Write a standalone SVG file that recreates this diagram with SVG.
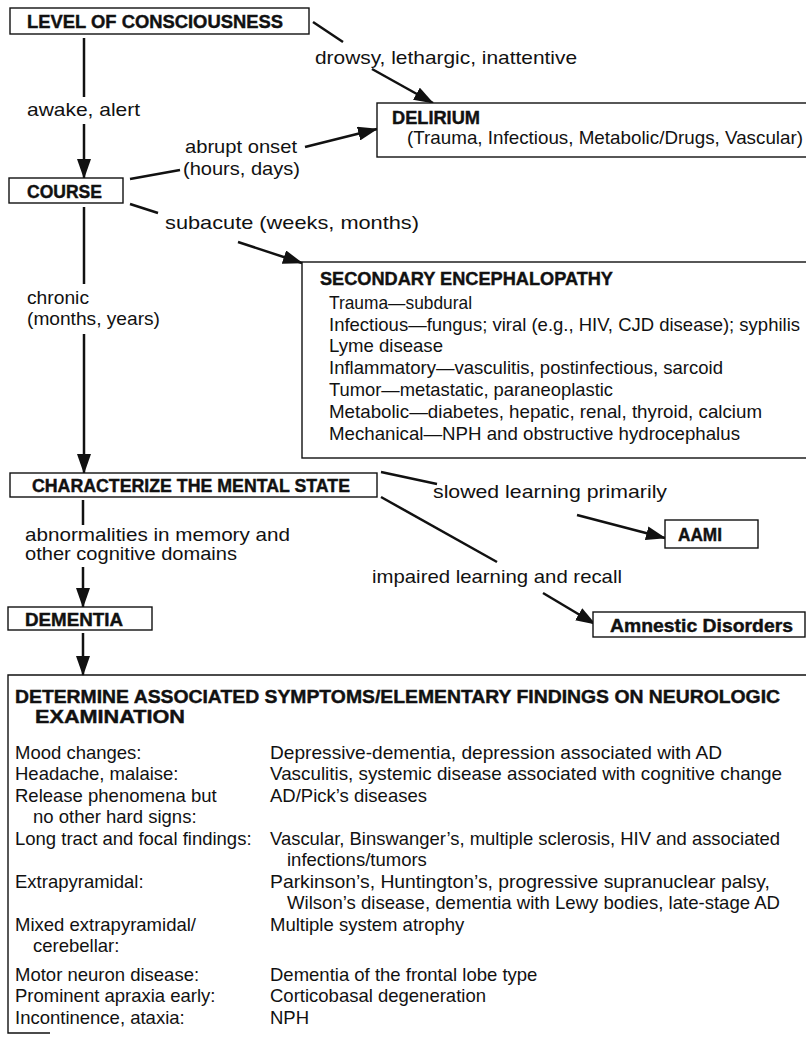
<svg xmlns="http://www.w3.org/2000/svg" width="806" height="1042" viewBox="0 0 806 1042">
  <style>
    .box { fill: #fff; stroke: #111; stroke-width: 1.4; }
    .open { fill: none; stroke: #111; stroke-width: 1.4; }
    .t { font-family: "Liberation Sans", Arial, sans-serif; font-size: 18.5px; fill: #111; }
    .b { font-family: "Liberation Sans", Arial, sans-serif; font-size: 17.5px; font-weight: bold; fill: #111; stroke: #111; stroke-width: 0.4; }
    .c line { stroke: #111; stroke-width: 2.5; }
  </style>
  <defs>
    <marker id="ah" viewBox="0 0 20 14" refX="19" refY="7" markerWidth="20" markerHeight="14" markerUnits="userSpaceOnUse" orient="auto">
      <path d="M0,0 L20,7 L0,14 z" fill="#111"/>
    </marker>
  </defs>
  <rect width="806" height="1042" fill="#fff"/>

  <!-- connectors -->
  <g id="connectors" class="c">
    <line x1="84" y1="38" x2="84" y2="97"/>
    <line x1="84" y1="124" x2="84" y2="178" marker-end="url(#ah)"/>
    <text class="t" x="27" y="116" textLength="113" lengthAdjust="spacingAndGlyphs">awake, alert</text>

    <line x1="313" y1="22" x2="343" y2="42"/>
    <line x1="372" y1="69" x2="433" y2="103" marker-end="url(#ah)"/>
    <text class="t" x="315" y="64" textLength="262" lengthAdjust="spacingAndGlyphs">drowsy, lethargic, inattentive</text>

    <line x1="130" y1="179" x2="180" y2="170"/>
    <line x1="305" y1="147" x2="377" y2="129" marker-end="url(#ah)"/>
    <text class="t" x="185" y="153" textLength="112" lengthAdjust="spacingAndGlyphs">abrupt onset</text>
    <text class="t" x="183" y="175" textLength="117" lengthAdjust="spacingAndGlyphs">(hours, days)</text>

    <line x1="130" y1="204" x2="158" y2="213"/>
    <line x1="238" y1="242" x2="302" y2="263" marker-end="url(#ah)"/>
    <text class="t" x="165" y="229" textLength="254" lengthAdjust="spacingAndGlyphs">subacute (weeks, months)</text>

    <line x1="84" y1="207" x2="84" y2="284"/>
    <line x1="84" y1="334" x2="84" y2="473" marker-end="url(#ah)"/>
    <text class="t" x="27" y="304" textLength="62" lengthAdjust="spacingAndGlyphs">chronic</text>
    <text class="t" x="27" y="325" textLength="133" lengthAdjust="spacingAndGlyphs">(months, years)</text>

    <line x1="381" y1="472" x2="437" y2="484"/>
    <line x1="577" y1="515" x2="665" y2="538" marker-end="url(#ah)"/>
    <text class="t" x="433" y="498" textLength="234" lengthAdjust="spacingAndGlyphs">slowed learning primarily</text>

    <line x1="381" y1="497" x2="497" y2="562"/>
    <line x1="543" y1="593" x2="595" y2="624" marker-end="url(#ah)"/>
    <text class="t" x="372" y="583" textLength="250" lengthAdjust="spacingAndGlyphs">impaired learning and recall</text>

    <line x1="83" y1="500" x2="83" y2="525"/>
    <line x1="83" y1="567" x2="83" y2="607" marker-end="url(#ah)"/>
    <text class="t" x="25" y="541" textLength="265" lengthAdjust="spacingAndGlyphs">abnormalities in memory and</text>
    <text class="t" x="25" y="560" textLength="212" lengthAdjust="spacingAndGlyphs">other cognitive domains</text>

    <line x1="83" y1="633" x2="83" y2="675" marker-end="url(#ah)"/>
  </g>

  <!-- nodes -->
  <g id="level-of-consciousness">
    <rect class="box" x="10" y="8" width="299" height="26"/>
    <text class="b" x="27" y="28" textLength="256" lengthAdjust="spacingAndGlyphs">LEVEL OF CONSCIOUSNESS</text>
  </g>

  <g id="delirium">
    <rect class="box" x="377" y="103" width="450" height="54"/>
    <text class="b" x="392" y="124" textLength="88" lengthAdjust="spacingAndGlyphs">DELIRIUM</text>
    <text class="t" x="407" y="144" textLength="396" lengthAdjust="spacingAndGlyphs">(Trauma, Infectious, Metabolic/Drugs, Vascular)</text>
  </g>

  <g id="course">
    <rect class="box" x="9" y="178" width="114" height="25"/>
    <text class="b" x="27" y="198" textLength="75" lengthAdjust="spacingAndGlyphs">COURSE</text>
  </g>

  <g id="secondary-encephalopathy">
    <rect class="box" x="302" y="262" width="520" height="196"/>
    <text class="b" x="320" y="285" textLength="293" lengthAdjust="spacingAndGlyphs">SECONDARY ENCEPHALOPATHY</text>
    <text class="t" x="329" y="309" textLength="143" lengthAdjust="spacingAndGlyphs">Trauma—subdural</text>
    <text class="t" x="329" y="331" textLength="471" lengthAdjust="spacingAndGlyphs">Infectious—fungus; viral (e.g., HIV, CJD disease); syphilis</text>
    <text class="t" x="329" y="352" textLength="114" lengthAdjust="spacingAndGlyphs">Lyme disease</text>
    <text class="t" x="329" y="374" textLength="394" lengthAdjust="spacingAndGlyphs">Inflammatory—vasculitis, postinfectious, sarcoid</text>
    <text class="t" x="329" y="396" textLength="284" lengthAdjust="spacingAndGlyphs">Tumor—metastatic, paraneoplastic</text>
    <text class="t" x="329" y="418" textLength="433" lengthAdjust="spacingAndGlyphs">Metabolic—diabetes, hepatic, renal, thyroid, calcium</text>
    <text class="t" x="329" y="440" textLength="411" lengthAdjust="spacingAndGlyphs">Mechanical—NPH and obstructive hydrocephalus</text>
  </g>

  <g id="characterize">
    <rect class="box" x="10" y="473" width="367" height="24"/>
    <text class="b" x="32" y="492" textLength="318" lengthAdjust="spacingAndGlyphs">CHARACTERIZE THE MENTAL STATE</text>
  </g>

  <g id="aami">
    <rect class="box" x="665" y="520" width="93" height="28"/>
    <text class="b" x="678" y="541" textLength="44" lengthAdjust="spacingAndGlyphs">AAMI</text>
  </g>

  <g id="amnestic-disorders">
    <rect class="box" x="593" y="612" width="212" height="25"/>
    <text class="b" x="610" y="632" textLength="183" lengthAdjust="spacingAndGlyphs">Amnestic Disorders</text>
  </g>

  <g id="dementia">
    <rect class="box" x="8" y="607" width="144" height="23"/>
    <text class="b" x="25" y="626" textLength="98" lengthAdjust="spacingAndGlyphs">DEMENTIA</text>
  </g>

  <g id="associated-findings">
    <path class="open" d="M820,675 H8 V1033 H50"/>
    <text class="b" x="15" y="703" textLength="765" lengthAdjust="spacingAndGlyphs">DETERMINE ASSOCIATED SYMPTOMS/ELEMENTARY FINDINGS ON NEUROLOGIC</text>
    <text class="b" x="35" y="723" textLength="150" lengthAdjust="spacingAndGlyphs">EXAMINATION</text>

    <text class="t" x="15" y="759">Mood changes:</text>
    <text class="t" x="270" y="759" textLength="452" lengthAdjust="spacingAndGlyphs">Depressive-dementia, depression associated with AD</text>
    <text class="t" x="15" y="780">Headache, malaise:</text>
    <text class="t" x="270" y="780" textLength="512" lengthAdjust="spacingAndGlyphs">Vasculitis, systemic disease associated with cognitive change</text>
    <text class="t" x="15" y="802">Release phenomena but</text>
    <text class="t" x="270" y="802">AD/Pick’s diseases</text>
    <text class="t" x="33" y="823">no other hard signs:</text>
    <text class="t" x="15" y="845">Long tract and focal findings:</text>
    <text class="t" x="270" y="845" textLength="510" lengthAdjust="spacingAndGlyphs">Vascular, Binswanger’s, multiple sclerosis, HIV and associated</text>
    <text class="t" x="287" y="866">infections/tumors</text>
    <text class="t" x="15" y="888">Extrapyramidal:</text>
    <text class="t" x="270" y="888" textLength="500" lengthAdjust="spacingAndGlyphs">Parkinson’s, Huntington’s, progressive supranuclear palsy,</text>
    <text class="t" x="287" y="909" textLength="493" lengthAdjust="spacingAndGlyphs">Wilson’s disease, dementia with Lewy bodies, late-stage AD</text>
    <text class="t" x="15" y="931">Mixed extrapyramidal/</text>
    <text class="t" x="270" y="931">Multiple system atrophy</text>
    <text class="t" x="33" y="952">cerebellar:</text>
    <text class="t" x="15" y="981">Motor neuron disease:</text>
    <text class="t" x="270" y="981">Dementia of the frontal lobe type</text>
    <text class="t" x="15" y="1002">Prominent apraxia early:</text>
    <text class="t" x="270" y="1002">Corticobasal degeneration</text>
    <text class="t" x="15" y="1024">Incontinence, ataxia:</text>
    <text class="t" x="270" y="1024">NPH</text>
  </g>
</svg>
